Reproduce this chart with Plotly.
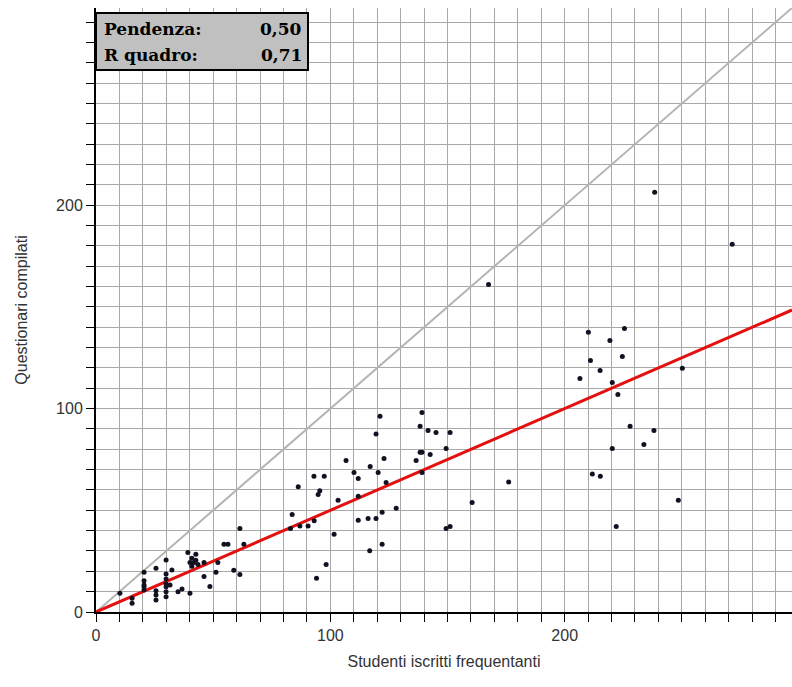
import plotly.graph_objects as go

# Studenti iscritti frequentanti (x) vs Questionari compilati (y)
studenti = [
    10.2, 15.4, 15.4, 20.5, 20.5, 20.5, 20.5, 20.5, 25.6, 25.6, 25.6, 25.6,
    29.9, 29.9, 29.9, 29.9, 29.9, 29.9, 29.9, 31.6, 32.4, 35.0, 36.7, 40.1,
    39.2, 42.6, 40.9, 42.6, 40.1, 41.8, 43.5, 40.9, 46.1, 46.1, 48.6, 51.2,
    52.0, 54.6, 56.3, 58.8, 61.4, 61.4, 63.1,
    83.7, 83.0, 87.0, 90.5, 93.1, 86.3, 93.0, 97.4, 95.5, 94.8, 103.3, 101.6,
    98.2, 94.1, 106.7, 110.1, 111.9, 111.9, 111.9, 116.1, 117.0, 116.8, 119.5,
    121.2, 120.4, 122.9, 123.8, 119.5, 122.1, 122.1, 128.1, 139.1, 138.3,
    141.7, 145.1, 151.1, 138.3, 139.1, 142.6, 149.4, 136.6, 139.1, 160.5,
    149.4, 151.1, 176.1, 167.5,
    210.1, 225.5, 219.3, 224.6, 211.0, 215.1, 206.5, 220.3, 222.7, 250.2,
    227.9, 238.1, 233.8, 220.3, 211.8, 215.2, 248.5, 222.0, 238.4, 271.5,
]
questionari = [
    9.2, 6.7, 4.3, 19.5, 15.4, 13.3, 10.8, 12.4, 21.5, 10.5, 8.4, 5.9,
    25.6, 18.7, 16.2, 13.8, 12.4, 10.0, 7.5, 13.3, 20.6, 10.0, 11.3, 9.2,
    29.3, 28.4, 26.4, 25.4, 24.4, 24.4, 23.4, 22.5, 24.4, 17.5, 12.6, 19.5,
    24.4, 33.3, 33.3, 20.5, 18.5, 41.1, 33.3,
    48.0, 41.1, 42.3, 42.3, 44.9, 61.6, 66.7, 66.7, 59.6, 57.8, 54.9, 38.2,
    23.4, 16.6, 74.5, 68.6, 65.7, 56.9, 45.1, 46.0, 71.6, 30.1, 87.5,
    96.3, 68.6, 75.5, 63.7, 46.0, 49.0, 33.3, 51.0, 98.1, 91.3,
    89.3, 88.3, 88.3, 78.5, 78.5, 77.5, 80.4, 74.5, 68.6, 53.9,
    41.1, 42.1, 63.9, 161.0,
    137.6, 139.4, 133.5, 125.6, 123.7, 118.8, 114.8, 112.9, 107.0, 119.8,
    91.3, 89.3, 82.4, 80.4, 67.8, 66.8, 54.9, 42.1, 206.4, 180.8,
]

pendenza = 0.50
r_quadro = 0.71
x_max = 297
y_max = 297
tick_vals = [0, 100, 200]
tick_text = ["0", "100", "200"]

fig = go.Figure()

# bisector y = x
fig.add_trace(go.Scatter(x=[0, x_max], y=[0, x_max], mode="lines",
                         line=dict(color="#b4b4b4", width=2), hoverinfo="skip"))
# regression line through origin
fig.add_trace(go.Scatter(x=[0, x_max], y=[0, pendenza * x_max], mode="lines",
                         line=dict(color="#e41010", width=3), hoverinfo="skip"))
# points
fig.add_trace(go.Scatter(x=studenti, y=questionari, mode="markers",
                         marker=dict(color="#111122", size=5)))

axis_common = dict(
    tickvals=tick_vals, ticktext=tick_text,
    showline=True, linecolor="black", linewidth=2,
    ticks="outside", ticklen=8, tickcolor="black", tickwidth=1,
    showgrid=True, gridcolor="#a8a8a8", gridwidth=1,
    zeroline=False, automargin=False,
    tickfont=dict(family="Liberation Sans, Arial", size=16, color="#333333"),
    minor=dict(dtick=10, tick0=0, ticks="outside", ticklen=8, tickcolor="black",
               showgrid=True, gridcolor="#a8a8a8", gridwidth=1),
)

fig.update_xaxes(**axis_common, range=[0, x_max],
                 title=dict(text="Studenti iscritti frequentanti", standoff=13,
                            font=dict(family="Liberation Sans, Arial", size=16, color="#333333")))
fig.update_yaxes(**axis_common, range=[0, y_max],
                 title=dict(text="Questionari compilati", standoff=24,
                            font=dict(family="Liberation Sans, Arial", size=16, color="#333333")))

# plot area in the page: x 96..792, y 8..612 (body margin removed below)
W, H = 792, 687
ml, mr, mt, mb = 96, 0, 8, H - 612
pw, ph = W - ml - mr, H - mt - mb

def px_to_paper_x(px):
    return (px - ml) / pw

def px_to_paper_y(py):
    return (H - mb - py) / ph

# stats box
fig.add_shape(type="rect", xref="paper", yref="paper",
              x0=px_to_paper_x(96), x1=px_to_paper_x(308),
              y0=px_to_paper_y(70), y1=px_to_paper_y(13),
              fillcolor="#c0c0c0", line=dict(color="black", width=2), layer="above")

box_font = dict(family="DejaVu Serif", size=17, color="black")
rows = [("Pendenza:", f"{pendenza:.2f}".replace(".", ",")),
        ("R quadro:", f"{r_quadro:.2f}".replace(".", ","))]
for i, (lab, val) in enumerate(rows):
    yc = px_to_paper_y(29 + i * 26)
    fig.add_annotation(xref="paper", yref="paper", x=px_to_paper_x(102), y=yc,
                       text=f"<b>{lab}</b>", showarrow=False, xanchor="left",
                       yanchor="middle", font=box_font)
    fig.add_annotation(xref="paper", yref="paper", x=px_to_paper_x(304), y=yc,
                       text=f"<b>{val}</b>", showarrow=False, xanchor="right",
                       yanchor="middle", font=box_font)

fig.update_layout(
    width=W, height=H,
    margin=dict(l=ml, r=mr, t=mt, b=mb, pad=0),
    plot_bgcolor="white", paper_bgcolor="white",
    showlegend=False,
)

fig.write_html("out.html", config={"displayModeBar": False},
               post_script="document.body.style.margin='0px';document.body.style.overflow='hidden';")
